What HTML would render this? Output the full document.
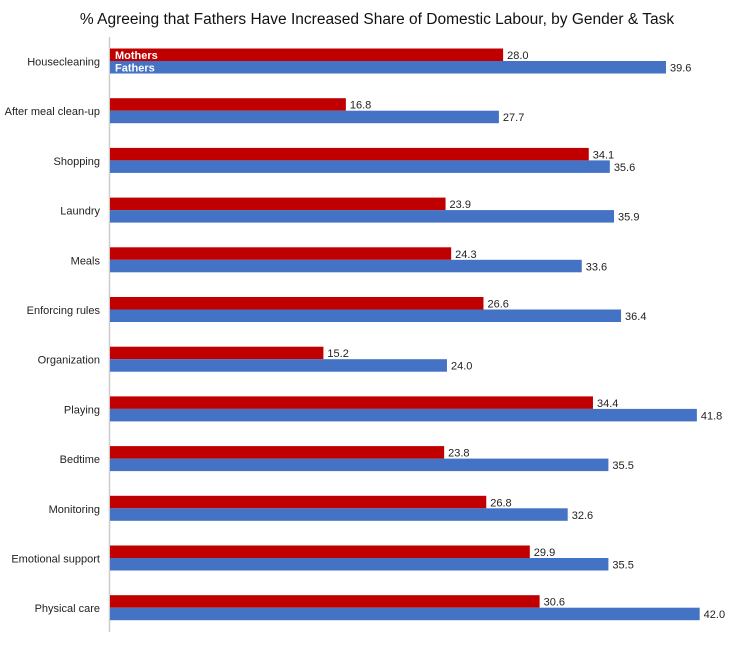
<!DOCTYPE html>
<html><head><meta charset="utf-8"><style>
body{margin:0;background:#fff;font-family:"Liberation Sans",sans-serif;}
</style></head><body>
<svg width="754" height="642" id="chart">
<text x="377" y="24" text-anchor="middle" font-size="15.5" fill="#111">% Agreeing that Fathers Have Increased Share of Domestic Labour, by Gender &amp; Task</text>
<line x1="109.5" y1="37" x2="109.5" y2="632" stroke="#ccc" stroke-width="1.5"/>
<g id="bars"></g>
</svg>
<script>
const categories=["Housecleaning","After meal clean-up","Shopping","Laundry","Meals","Enforcing rules","Organization","Playing","Bedtime","Monitoring","Emotional support","Physical care"];
const mothers=[28.0,16.8,34.1,23.9,24.3,26.6,15.2,34.4,23.8,26.8,29.9,30.6];
const fathers=[39.6,27.7,35.6,35.9,33.6,36.4,24.0,41.8,35.5,32.6,35.5,42.0];
const x0=109,k=14.04,y0=48.5,step=49.7,bh=12.5;
const xs=v=>v*k;
const yc=i=>y0+i*step;
const g=document.getElementById('bars');
const NS='http://www.w3.org/2000/svg';
function mk(t,a){const e=document.createElementNS(NS,t);for(const n in a)e.setAttribute(n,a[n]);return e;}
categories.forEach((c,i)=>{
 const y=yc(i);
 const lab=mk('text',{x:100,y:y+bh+4.5,'text-anchor':'end','font-size':11,fill:'#222'});
 lab.textContent=c;
 
 
 g.appendChild(lab);
 [[mothers,'#c00000',0,'Mothers','mothers'],[fathers,'#4472c4',bh,'Fathers','fathers']].forEach(([arr,col,dy,nm,key])=>{
  const w=xs(arr[i]);
  const r=mk('rect',{x:x0+1,y:y+dy,width:w,height:bh,fill:col});
  
  
  g.appendChild(r);
  const t=mk('text',{x:x0+1+w+4,y:y+dy+10.5,'font-size':11,fill:'#222'});
  t.textContent=arr[i].toFixed(1);
  
  
  g.appendChild(t);
  if(i===0){
   const s=mk('text',{x:x0+6,y:y+dy+10.5,'font-size':11,'font-weight':'bold',fill:'#fff'});
   s.textContent=nm;
   
   
   g.appendChild(s);
  }
 });
});
</script>
</body></html>
